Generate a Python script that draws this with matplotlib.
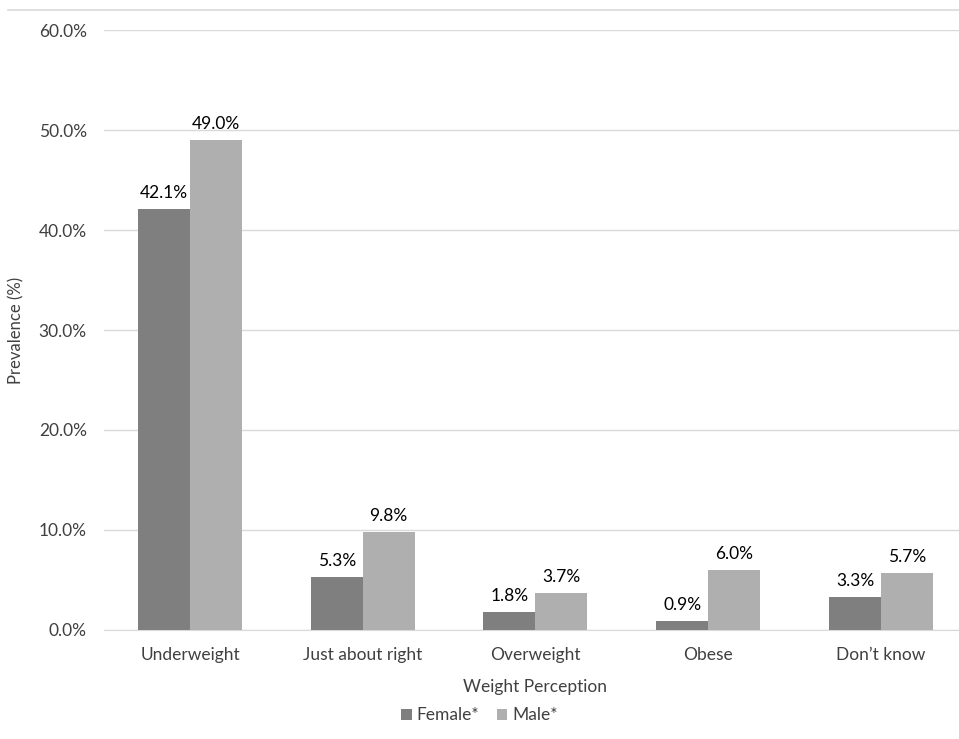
import matplotlib
matplotlib.use('Agg')
from matplotlib import pyplot as plt
from matplotlib.lines import Line2D
import numpy as np

# ========== Datos ==========
categories = ['Underweight', 'Just about right', 'Overweight', 'Obese', 'Don\u2019t know']
female = [42.1, 5.3, 1.8, 0.9, 3.3]
male = [49.0, 9.8, 3.7, 6.0, 5.7]
series_names = ['Female*', 'Male*']

# ========== Estilo ==========
plt.rcParams['font.family'] = ['Lato', 'DejaVu Sans']
text_color = '#404040'
c_female = '#7f7f7f'
c_male = '#afafaf'
fs = 12.5

fig = plt.figure(figsize=(9.59, 7.39), dpi=100)
# el area de datos sigue algo mas alla del borde derecho, como en el original
ax = fig.add_axes([0.108, 0.1475, 0.9007, 0.8119])

x = np.arange(len(categories))
w = 0.301
b1 = ax.bar(x - w / 2, female, w, color=c_female, label=series_names[0], zorder=3)
b2 = ax.bar(x + w / 2, male, w, color=c_male, label=series_names[1], zorder=3)

for bars in (b1, b2):
    ax.bar_label(bars, labels=[f'{v:.1f}%' for v in bars.datavalues], padding=6,
                 fontsize=fs, color='#000000')

ax.set_ylim(0, 60)
ax.set_xlim(-0.5, len(categories) - 0.5)
ax.set_yticks(np.arange(0, 61, 10))
ax.set_yticklabels([f'{v:.1f}%' for v in np.arange(0, 61, 10)])
ax.set_xticks(x)
ax.set_xticklabels(categories)
ax.tick_params(axis='both', length=0, labelsize=fs, colors=text_color)
ax.tick_params(axis='y', pad=12)
ax.tick_params(axis='x', pad=12)
ax.yaxis.grid(True, color='#d9d9d9', linewidth=1, zorder=0)
for s in ['top', 'right', 'left']:
    ax.spines[s].set_visible(False)
ax.spines['bottom'].set_color('#d9d9d9')

ax.set_ylabel('Prevalence (%)', fontsize=fs - 0.5, color=text_color, labelpad=10)
ax.set_xlabel('Weight Perception', fontsize=fs, color=text_color, labelpad=12)

leg = fig.legend(handles=[b1, b2], loc='center', bbox_to_anchor=(0.5, 0.032), ncol=2,
                 frameon=False, fontsize=fs, handlelength=0.6, handleheight=0.6,
                 handletextpad=0.3, columnspacing=1.0)
for t in leg.get_texts():
    t.set_color(text_color)

# linea superior del marco
fig.add_artist(Line2D([0.008, 1.0], [0.9865, 0.9865], color='#d9d9d9', linewidth=1.2,
                      transform=fig.transFigure))

fig.savefig('out.png', dpi=100)
